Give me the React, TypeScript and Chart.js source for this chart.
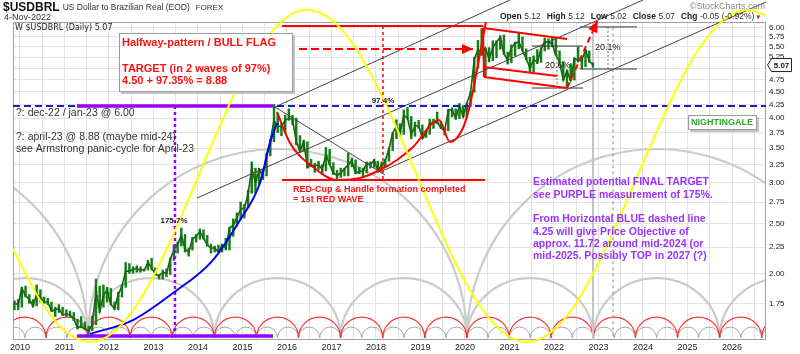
import React, { useEffect, useRef } from 'react';
import { Chart, registerables } from 'chart.js';

Chart.register(...registerables);

const FONT = '"Liberation Sans", Arial, sans-serif';

// ---------------- axes ----------------
const xStartYear = 2009.843;
const xEndYear = 2026.764;
const yMin = 1.4856;
const yMax = 6.144;
const gridYears = [2010, 2010.5, 2011, 2011.5, 2012, 2012.5, 2013, 2013.5, 2014, 2014.5, 2015, 2015.5, 2016, 2016.5, 2017, 2017.5, 2018, 2018.5, 2019, 2019.5, 2020, 2020.5, 2021, 2021.5, 2022, 2022.5, 2023, 2023.5, 2024, 2024.5, 2025, 2025.5, 2026, 2026.5];
const priceTicks = [1.75, 2.0, 2.25, 2.5, 2.75, 3.0, 3.25, 3.5, 3.75, 4.0, 4.25, 4.5, 4.75, 5.0, 5.25, 5.5, 5.75, 6.0];

// ---------------- price data (monthly, Nov-2009 .. Nov-2022) ----------------
const firstMonth = 2009 + 10 / 12;
const monthLow = [
  1.70, 1.70,
  1.72, 1.80, 1.75, 1.72, 1.73, 1.76, 1.75, 1.74, 1.69, 1.65, 1.68, 1.66,
  1.65, 1.65, 1.62, 1.56, 1.57, 1.56, 1.53, 1.55, 1.59, 1.68, 1.72, 1.76,
  1.74, 1.70, 1.70, 1.80, 1.88, 2.00, 2.00, 2.01, 2.01, 2.02, 2.03, 2.03,
  1.99, 1.95, 1.95, 1.97, 1.99, 2.12, 2.19, 2.26, 2.20, 2.16, 2.22, 2.30,
  2.33, 2.33, 2.26, 2.19, 2.20, 2.20, 2.20, 2.22, 2.22, 2.36, 2.47, 2.54,
  2.56, 2.68, 2.86, 2.87, 2.98, 3.04, 3.09, 3.38, 3.60, 3.75, 3.70, 3.75,
  3.96, 3.88, 3.55, 3.43, 3.45, 3.20, 3.22, 3.14, 3.18, 3.11, 3.16, 3.25,
  3.11, 3.05, 3.07, 3.09, 3.09, 3.22, 3.12, 3.12, 3.08, 3.13, 3.20, 3.21,
  3.14, 3.17, 3.22, 3.30, 3.46, 3.65, 3.69, 3.72, 3.98, 3.65, 3.69, 3.82,
  3.65, 3.67, 3.72, 3.82, 3.90, 3.82, 3.71, 3.78, 4.02, 3.98, 3.99, 4.02,
  4.01, 4.22, 4.49, 5.00, 5.29, 4.82, 5.14, 5.17, 5.24, 5.44, 5.31, 5.09,
  5.12, 5.28, 5.45, 5.40, 5.19, 4.90, 4.92, 5.10, 5.13, 5.40, 5.44, 5.50,
  5.30, 5.13, 4.74, 4.60, 4.73, 4.74, 5.14, 4.99, 5.03, 5.13, 5.02,
];
const monthHigh = [
  1.77, 1.78,
  1.88, 1.89, 1.82, 1.78, 1.90, 1.86, 1.80, 1.79, 1.76, 1.72, 1.74, 1.72,
  1.70, 1.69, 1.68, 1.63, 1.65, 1.61, 1.58, 1.65, 1.95, 1.89, 1.90, 1.88,
  1.87, 1.76, 1.84, 1.90, 2.10, 2.09, 2.06, 2.07, 2.06, 2.04, 2.12, 2.14,
  2.05, 1.99, 2.03, 2.04, 2.14, 2.27, 2.30, 2.45, 2.38, 2.24, 2.35, 2.38,
  2.44, 2.43, 2.37, 2.28, 2.26, 2.27, 2.28, 2.34, 2.46, 2.55, 2.62, 2.75,
  2.72, 2.90, 3.29, 3.20, 3.20, 3.18, 3.42, 3.64, 4.25, 4.08, 3.90, 4.05,
  4.17, 4.05, 4.00, 3.70, 3.62, 3.60, 3.33, 3.27, 3.30, 3.25, 3.51, 3.48,
  3.28, 3.17, 3.20, 3.20, 3.42, 3.35, 3.32, 3.21, 3.20, 3.29, 3.29, 3.33,
  3.30, 3.29, 3.33, 3.50, 3.75, 3.97, 3.90, 4.15, 4.20, 4.03, 3.93, 3.96,
  3.88, 3.78, 3.98, 3.98, 4.11, 3.94, 3.83, 4.16, 4.19, 4.17, 4.27, 4.23,
  4.28, 4.50, 5.25, 5.66, 5.97, 5.47, 5.48, 5.65, 5.65, 5.78, 5.80, 5.37,
  5.55, 5.62, 5.87, 5.75, 5.45, 5.25, 5.28, 5.43, 5.48, 5.72, 5.70, 5.75,
  5.70, 5.40, 5.15, 4.96, 5.10, 5.23, 5.50, 5.25, 5.44, 5.40, 5.12,
];
const monthClose = [
  1.75, 1.74,
  1.87, 1.81, 1.78, 1.73, 1.82, 1.80, 1.76, 1.76, 1.69, 1.70, 1.71, 1.66,
  1.67, 1.66, 1.63, 1.57, 1.58, 1.56, 1.55, 1.59, 1.85, 1.69, 1.81, 1.86,
  1.74, 1.71, 1.82, 1.89, 2.02, 2.02, 2.04, 2.04, 2.03, 2.03, 2.10, 2.05,
  1.99, 1.98, 2.01, 2.00, 2.13, 2.22, 2.28, 2.37, 2.23, 2.20, 2.33, 2.36,
  2.41, 2.34, 2.27, 2.24, 2.24, 2.20, 2.27, 2.24, 2.45, 2.48, 2.57, 2.66,
  2.68, 2.85, 3.20, 2.99, 3.18, 3.10, 3.40, 3.62, 3.96, 3.86, 3.85, 3.96,
  4.00, 3.98, 3.60, 3.45, 3.60, 3.21, 3.24, 3.23, 3.25, 3.18, 3.40, 3.25,
  3.13, 3.10, 3.13, 3.19, 3.25, 3.31, 3.13, 3.15, 3.16, 3.27, 3.26, 3.31,
  3.17, 3.24, 3.31, 3.49, 3.74, 3.86, 3.75, 4.05, 4.00, 3.72, 3.86, 3.87,
  3.65, 3.75, 3.91, 3.92, 3.93, 3.83, 3.78, 4.14, 4.16, 4.00, 4.23, 4.02,
  4.28, 4.48, 5.20, 5.44, 5.34, 5.47, 5.21, 5.48, 5.62, 5.74, 5.33, 5.19,
  5.47, 5.58, 5.63, 5.40, 5.22, 5.00, 5.19, 5.14, 5.44, 5.63, 5.62, 5.57,
  5.30, 5.14, 4.74, 4.94, 4.73, 5.23, 5.17, 5.18, 5.42, 5.17, 5.07,
];
const lastClose = 5.07;
const quoteLabels = ['Open', 'High', 'Low', 'Close', 'Chg'];
const quoteValues = ['5.12', '5.12', '5.02', '5.07', '-0.05 (-0.92%)'];

// ---------------- drawn annotations, in (year, price) ----------------
const yellowCycle = [
  [2009.843, 2.23], [2010.449, 1.776], [2011.011, 1.547], [2011.573, 1.472], [2012.135, 1.547],
  [2012.697, 1.776], [2013.258, 2.191], [2013.82, 2.826], [2014.382, 3.677], [2014.944, 4.7],
  [2015.506, 5.67], [2016.067, 6.339], [2016.449, 6.482], [2017.011, 6.199], [2017.573, 5.422],
  [2018.135, 4.416], [2018.697, 3.439], [2019.258, 2.642], [2019.82, 2.067], [2020.382, 1.706],
  [2020.944, 1.519], [2021.393, 1.472], [2021.91, 1.533], [2022.472, 1.737], [2023.034, 2.123],
  [2023.596, 2.714], [2024.157, 3.516], [2024.719, 4.495], [2025.281, 5.495], [2025.843, 6.227],
  [2026.36, 6.482], [2026.764, 6.339],
];
const blueCurve = [
  [2011.573, 1.526], [2012.539, 1.624], [2013.438, 1.832], [2014.337, 2.123], [2014.944, 2.538],
  [2015.393, 2.994], [2015.618, 3.58], [2015.775, 3.914],
];
const redCupHandle = [
  [2015.775, 4.111], [2016.067, 3.58], [2016.584, 3.216], [2017.124, 3.035], [2017.64, 3.062],
  [2018.09, 3.173], [2018.472, 3.318], [2018.831, 3.516], [2019.416, 3.967], [2019.663, 3.596],
  [2019.955, 3.828], [2020.112, 4.241], [2020.27, 4.959], [2020.472, 6.171],
];
const flagUpper = [[2020.404, 5.982], [2022.292, 5.695]];
const flagLeft = [[2020.404, 5.982], [2020.427, 4.806]];
const flagMiddle = [[2020.427, 5.026], [2022.067, 4.828]];
const flagLower = [[2020.427, 4.806], [2022.292, 4.576]];
const redTop = [[2015.888, 6.035], [2020.404, 6.035]];
const redCupBase = [[2015.888, 3.035], [2020.449, 3.035]];
const redMeasure = [[2018.157, 6.035], [2018.157, 3.035]];
const redArrowFlat = [[2016.0, 5.446], [2020.18, 5.446]];
const redArrowUp = [[2022.292, 4.576], [2022.975, 6.17]];
const purpleTop = [[2011.281, 4.223], [2015.685, 4.223]];
const purpleBottom = [[2011.281, 1.512], [2015.685, 1.512]];
const purpleMeasure = [[2013.483, 4.223], [2013.483, 1.512]];
const blueLevel = [[xStartYear, 4.223], [xEndYear, 4.223]];
const channelA = [[2015.73, 4.204], [2021.011, 6.778]];
const channelB = [[2013.978, 2.8], [2024.0, 6.778]];
const channelC = [[2018.09, 3.145], [2026.764, 6.717]];
const downTrend = [[2015.73, 4.204], [2018.202, 3.103]];
const measTop1 = [[2021.506, 5.519], [2022.652, 5.519]];
const measBot1 = [[2021.506, 4.576], [2022.652, 4.576]];
const measVert1 = [[2022.067, 5.519], [2022.067, 4.576]];
const measTop2 = [[2022.584, 6.01], [2023.865, 6.01]];
const measBot2 = [[2022.584, 4.981], [2023.865, 4.981]];
const measVert2 = [[2023.213, 6.01], [2023.213, 4.981]];
const todayLine = [[2022.876, yMin], [2022.876, yMax]];
const projLine = [[2023.326, 6.0], [2023.326, yMin]];

// cycle arcs
const cycleNode = 2011.528;
const cyclePeriods = [8.517, 2.839, 0.4732, 0.9463];
const cyclePeaks = [3.485, 1.959, 1.574, 1.646];
const cycleBase = 1.499;

type Pt = number[];
function seg(pts: Pt[], color: string, width: number, opts: any = {}) {
  return {
    type: 'line',
    data: pts.map(([x, y]) => ({ x, y })),
    borderColor: color,
    backgroundColor: color,
    borderWidth: width,
    borderDash: opts.dash || [],
    pointRadius: 0,
    fill: false,
    order: opts.order ?? 2,
    clip: opts.clip ?? { left: 0, top: 0, right: 0, bottom: 0 },
    cubicInterpolationMode: opts.smooth ? 'monotone' : 'default',
    tension: 0,
  };
}

function txt(ctx: CanvasRenderingContext2D, s: string, x: number, y: number, font: string, color: string, align: CanvasTextAlign = 'left') {
  ctx.font = font;
  ctx.fillStyle = color;
  ctx.textAlign = align;
  ctx.textBaseline = 'middle';
  ctx.fillText(s, x, y);
  return ctx.measureText(s).width;
}

function arrowHead(ctx: CanvasRenderingContext2D, x0: number, y0: number, x1: number, y1: number, len: number, half: number, color: string) {
  const a = Math.atan2(y1 - y0, x1 - x0);
  const bx = x1 - len * Math.cos(a);
  const by = y1 - len * Math.sin(a);
  ctx.save();
  ctx.fillStyle = color;
  ctx.beginPath();
  ctx.moveTo(x1, y1);
  ctx.lineTo(bx + half * Math.sin(a), by - half * Math.cos(a));
  ctx.lineTo(bx - half * Math.sin(a), by + half * Math.cos(a));
  ctx.closePath();
  ctx.fill();
  ctx.restore();
}

function box(ctx: CanvasRenderingContext2D, x: number, y: number, w: number, h: number) {
  ctx.save();
  ctx.fillStyle = '#c4c4c4';
  ctx.fillRect(x + 2, y + 2, w, h);
  ctx.fillStyle = '#ffffff';
  ctx.fillRect(x, y, w, h);
  ctx.strokeStyle = '#9a9a9a';
  ctx.lineWidth = 1;
  ctx.strokeRect(x + 0.5, y + 0.5, w - 1, h - 1);
  ctx.restore();
}

const overlay = {
  id: 'overlay',
  beforeDraw(chart: any) {
    const { ctx } = chart;
    ctx.save();
    ctx.fillStyle = '#ffffff';
    ctx.fillRect(0, 0, chart.width, chart.height);
    ctx.restore();
  },
  beforeDatasetsDraw(chart: any) {
    const { ctx, chartArea: ca, scales } = chart;
    const xs = scales.x;
    const ys = scales.y;
    ctx.save();
    ctx.beginPath();
    ctx.rect(ca.left, ca.top, ca.right - ca.left, ca.bottom - ca.top);
    ctx.clip();
    const yb = ys.getPixelForValue(cycleBase);
    const colors = ['#cbcbcb', '#cbcbcb', '#a6a6a6', '#ff3030'];
    const widths = [2.2, 2.2, 1, 1.2];
    cyclePeriods.forEach((P, i) => {
      const yp = ys.getPixelForValue(cyclePeaks[i]);
      ctx.strokeStyle = colors[i];
      ctx.lineWidth = widths[i];
      let n = cycleNode - Math.ceil((cycleNode - xStartYear) / P) * P;
      for (; n < xEndYear; n += P) {
        const x0 = xs.getPixelForValue(n);
        const x1 = xs.getPixelForValue(n + P);
        ctx.beginPath();
        ctx.ellipse((x0 + x1) / 2, yb, (x1 - x0) / 2, yb - yp, 0, Math.PI, 2 * Math.PI);
        ctx.stroke();
      }
    });
    ctx.restore();
    ctx.save();
    ctx.strokeStyle = '#a0a0a0';
    ctx.lineWidth = 1;
    ctx.strokeRect(ca.left + 0.5, ca.top + 0.5, ca.right - ca.left - 1, ca.bottom - ca.top - 1);
    ctx.restore();
  },
  afterDatasetsDraw(chart: any) {
    const { ctx, scales } = chart;
    const xs = scales.x;
    const ys = scales.y;
    const P = (p: Pt) => [xs.getPixelForValue(p[0]), ys.getPixelForValue(p[1])];
    let a = P(redArrowFlat[0]);
    let b = P(redArrowFlat[1]);
    arrowHead(ctx, a[0], a[1], b[0], b[1], 11, 5, '#ff0000');
    a = P(redArrowUp[0]);
    b = P(redArrowUp[1]);
    arrowHead(ctx, a[0], a[1], b[0], b[1], 11, 5, '#ff0000');

    txt(ctx, '175.7%', 174, 221, `bold 8px ${FONT}`, '#222', 'center');
    txt(ctx, '97.4%', 383, 101, `bold 8px ${FONT}`, '#222', 'center');
    txt(ctx, '20.6%', 545, 66, `9px ${FONT}`, '#222');
    txt(ctx, '20.1%', 595, 48, `9px ${FONT}`, '#222');

    box(ctx, 119, 33, 174, 59);
    const red = '#ff1010';
    txt(ctx, 'Halfway-pattern / BULL FLAG', 122, 43, `bold 11px ${FONT}`, red);
    txt(ctx, 'TARGET (in 2 waves of 97%)', 122, 69, `bold 11px ${FONT}`, red);
    txt(ctx, '4.50 + 97.35% = 8.88', 122, 81, `bold 11px ${FONT}`, red);

    const nf = `10.5px ${FONT}`;
    txt(ctx, '?: dec-22 / jan-23 @ 6.00', 16, 113, nf, '#333');
    txt(ctx, '?: april-23 @ 8.88 (maybe mid-24)', 16, 137, nf, '#333');
    txt(ctx, 'see Armstrong panic-cycle for April-23', 16, 149, nf, '#333');

    txt(ctx, 'RED-Cup & Handle formation completed', 293, 190, `bold 9px ${FONT}`, red);
    txt(ctx, '= 1st RED WAVE', 293, 200, `bold 9px ${FONT}`, red);

    const purple = '#9933ff';
    const pf = `bold 10.5px ${FONT}`;
    txt(ctx, 'Estimated potential FINAL TARGET', 533, 182, pf, purple);
    txt(ctx, 'see PURPLE measurement of 175%.', 533, 195, pf, purple);
    txt(ctx, 'From Horizontal BLUE dashed line', 533, 219, pf, purple);
    txt(ctx, '4.25 will give Price Objective of', 533, 232, pf, purple);
    txt(ctx, 'approx. 11.72 around mid-2024 (or', 533, 244, pf, purple);
    txt(ctx, 'mid-2025. Possibly TOP in 2027 (?)', 533, 256, pf, purple);

    box(ctx, 688, 115, 69, 15);
    txt(ctx, 'NIGHTINGALE', 722, 122.5, `bold 9px ${FONT}`, '#2ea82e', 'center');
  },
  afterDraw(chart: any) {
    const { ctx, scales } = chart;
    const ys = scales.y;
    const w1 = txt(ctx, '$USDBRL', 3, 8, `bold 12px ${FONT}`, '#111');
    const w2 = txt(ctx, 'US Dollar to Brazilian Real (EOD)', 3 + w1 + 3, 8, `8.5px ${FONT}`, '#333');
    txt(ctx, 'FOREX', 3 + w1 + 3 + w2 + 6, 8, `8px ${FONT}`, '#333');
    txt(ctx, '4-Nov-2022', 4, 18, `9px ${FONT}`, '#333');
    txt(ctx, '\u00A9StockCharts.com', 765, 7, `9px ${FONT}`, '#8a8a8a', 'right');
    txt(ctx, 'W $USDBRL (Daily) 5.07', 15, 28, `8px "DejaVu Sans", sans-serif`, '#222');

    let x = 500;
    quoteLabels.forEach((lab, i) => {
      x += txt(ctx, lab, x, 17, `bold 8.5px ${FONT}`, '#222') + 2.5;
      x += txt(ctx, quoteValues[i], x, 17, `8.5px ${FONT}`, '#333') + 6;
    });
    txt(ctx, '\u25BC', x - 2, 17, `6px ${FONT}`, '#c00000', 'center');

    const yl = ys.getPixelForValue(lastClose);
    ctx.save();
    ctx.fillStyle = '#ffffff';
    ctx.strokeStyle = '#222';
    ctx.lineWidth = 1;
    ctx.beginPath();
    ctx.moveTo(767.5, yl);
    ctx.lineTo(771.5, yl - 6.5);
    ctx.lineTo(791.5, yl - 6.5);
    ctx.lineTo(791.5, yl + 6.5);
    ctx.lineTo(771.5, yl + 6.5);
    ctx.closePath();
    ctx.fill();
    ctx.stroke();
    ctx.restore();
    txt(ctx, lastClose.toFixed(2), 781.5, yl + 0.5, `bold 8px ${FONT}`, '#111', 'center');
  },
};

export default function App() {
  const ref = useRef<HTMLCanvasElement | null>(null);
  useEffect(() => {
    document.body.style.margin = '0';
    const canvas = ref.current;
    if (!canvas) return;
    const months = monthLow.map((_, i) => firstMonth + (i + 0.5) / 12);
    const topClip = { left: 0, top: 22, right: 0, bottom: 0 };
    const datasets: any[] = [
      seg(yellowCycle, '#ffff00', 2, { smooth: true, order: 0, clip: { left: 0, top: 22, right: 0, bottom: 4 } }),
      seg(blueCurve, '#0000ff', 2, { smooth: true, order: 1 }),
      seg(redCupHandle, '#ff0000', 2, { smooth: true, order: 1 }),
      seg(flagUpper, '#ff0000', 2, { order: 1 }),
      seg(flagLeft, '#ff0000', 2, { order: 1 }),
      seg(flagMiddle, '#ff0000', 2, { order: 1 }),
      seg(flagLower, '#ff0000', 2, { order: 1 }),
      seg(redTop, '#ff0000', 2, { order: 1, clip: topClip }),
      seg(redCupBase, '#ff0000', 2, { order: 1 }),
      seg(redMeasure, '#ff0000', 1.5, { order: 1, dash: [3, 3] }),
      seg(redArrowFlat, '#ff0000', 2, { order: 1, dash: [8, 4] }),
      seg(redArrowUp, '#ff0000', 2, { order: 1, dash: [6, 4], clip: topClip }),
      seg(purpleTop, '#9900ff', 3.5, { order: 2 }),
      seg(purpleBottom, '#9900ff', 3.5, { order: 2 }),
      seg(purpleMeasure, '#9900ff', 2.5, { order: 2, dash: [3, 3] }),
      seg(blueLevel, '#1a1acc', 2, { order: 3, dash: [7, 4] }),
      seg(channelA, '#444444', 1, { order: 3, clip: topClip }),
      seg(channelB, '#444444', 1, { order: 3, clip: topClip }),
      seg(channelC, '#444444', 1, { order: 3, clip: topClip }),
      seg(downTrend, '#444444', 1, { order: 3 }),
      seg(measTop1, '#333333', 1, { order: 3 }),
      seg(measBot1, '#333333', 1, { order: 3 }),
      seg(measVert1, '#777777', 1, { order: 3, dash: [2, 2] }),
      seg(measTop2, '#333333', 1, { order: 3, clip: topClip }),
      seg(measBot2, '#333333', 1, { order: 3 }),
      seg(measVert2, '#777777', 1, { order: 3, dash: [2, 2] }),
      seg(projLine, '#8a8a8a', 1, { order: 4, dash: [3, 3] }),
      seg(todayLine, '#c4c4c4', 2, { order: 12 }),
      {
        type: 'line',
        data: monthClose.map((c, i) => ({ x: months[i], y: c })),
        borderColor: '#0c6a0c',
        borderWidth: 1.6,
        pointRadius: 0,
        fill: false,
        order: 9,
      },
      {
        type: 'bar',
        data: monthLow.map((lo, i) => ({ x: months[i], y: [lo, monthHigh[i]] })),
        backgroundColor: '#12801a',
        borderWidth: 0,
        barThickness: 1.8,
        order: 10,
      },
      {
        type: 'line',
        data: monthClose.map((c, i) => ({ x: months[i] + 0.03, y: c })),
        borderColor: '#e02020',
        borderWidth: 0.8,
        borderDash: [1, 5],
        pointRadius: 0,
        fill: false,
        order: 8,
      },
    ];
    const chart = new Chart(canvas, {
      type: 'line',
      data: { datasets },
      options: {
        animation: false,
        responsive: false,
        maintainAspectRatio: false,
        events: [],
        layout: { padding: { left: 13, top: 22, right: 0, bottom: 0 } },
        plugins: { legend: { display: false }, tooltip: { enabled: false }, title: { display: false } },
        scales: {
          x: {
            type: 'linear',
            min: xStartYear,
            max: xEndYear,
            offset: false,
            afterBuildTicks: (s: any) => { s.ticks = gridYears.map((v) => ({ value: v })); },
            afterFit: (s: any) => { s.height = 14; },
            ticks: {
              autoSkip: false,
              maxRotation: 0,
              padding: 2,
              color: '#222',
              font: { family: FONT, size: 9 },
              callback: (v: any) => (Number.isInteger(Number(v)) ? String(v) : ''),
            },
            grid: { color: '#e3e3e3', drawTicks: false, offset: false },
            border: { display: false },
          },
          y: {
            type: 'logarithmic',
            position: 'right',
            min: yMin,
            max: yMax,
            afterBuildTicks: (s: any) => { s.ticks = priceTicks.map((v) => ({ value: v })); },
            afterFit: (s: any) => { s.width = 34; },
            ticks: {
              autoSkip: false,
              padding: 3,
              color: '#222',
              font: { family: FONT, size: 8 },
              callback: (v: any) => (Number(v) === 5 ? '' : Number(v).toFixed(2)),
            },
            grid: { color: '#e3e3e3', drawTicks: false },
            border: { display: false },
          },
        },
      } as any,
      plugins: [overlay],
    } as any);
    return () => chart.destroy();
  }, []);
  return (
    <div style={{ width: 800, height: 354 }}>
      <canvas ref={ref} width={800} height={354} style={{ display: 'block', width: 800, height: 354 }} />
    </div>
  );
}
